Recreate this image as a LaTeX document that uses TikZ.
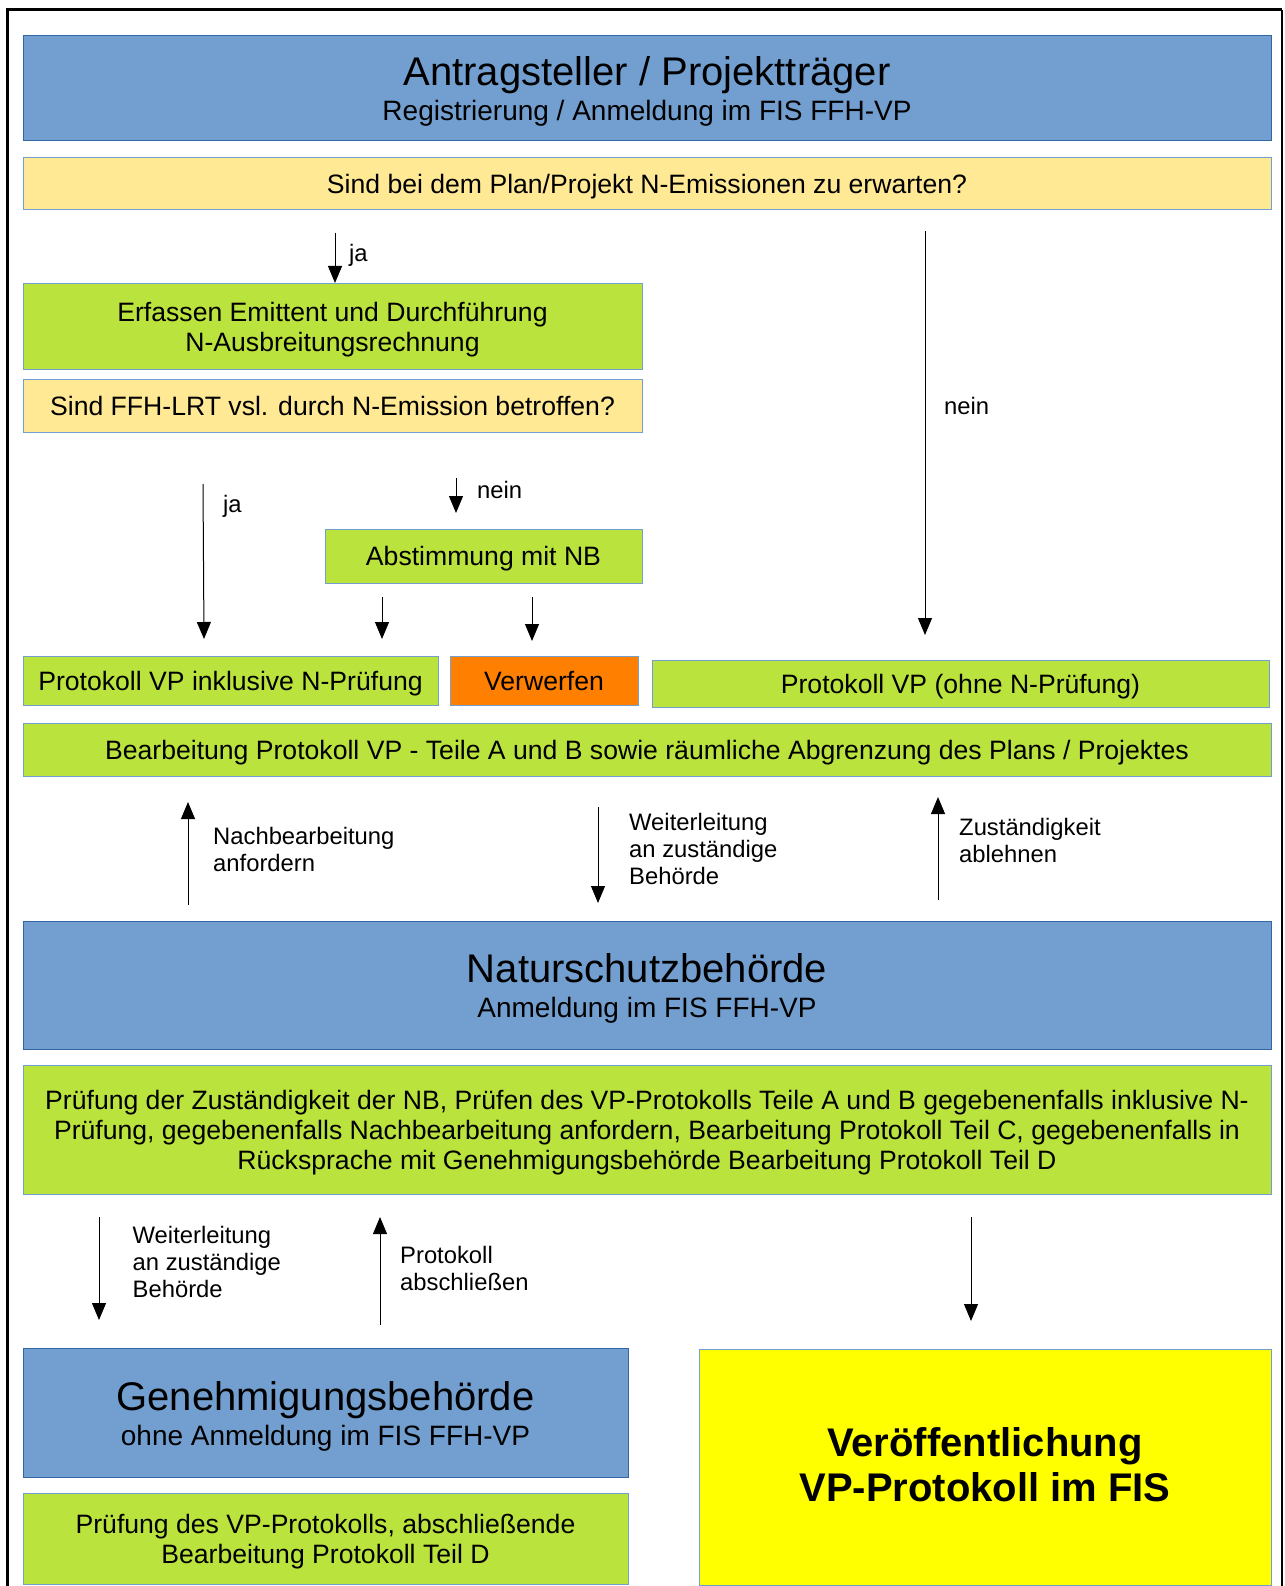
\documentclass[tikz,border=0pt]{standalone}
\usepackage{fontspec}
\setmainfont{Liberation Sans}
\usetikzlibrary{arrows.meta}
\definecolor{blauFuell}{HTML}{729FCF}
\definecolor{randDunkel}{HTML}{3465A4}
\definecolor{randHell}{HTML}{729FCF}
\definecolor{gelbHell}{HTML}{FFE994}
\definecolor{gruenFuell}{HTML}{BBE33D}
\definecolor{orangeFuell}{HTML}{FF8000}
\definecolor{gelbFuell}{HTML}{FFFF00}
\tikzset{
  kasten/.style = {draw = randHell, line width = 1pt, inner sep = 0pt, align = center, font = \fontsize{26.6}{30}\selectfont,
                   execute at begin node = {\rule[-6pt]{0pt}{31pt}}},
  kastenBlau/.style = {kasten, fill = blauFuell, draw = randDunkel, font = \fontsize{28}{35}\selectfont},
  kastenGruen/.style = {kasten, fill = gruenFuell},
  kastenFrage/.style = {kasten, fill = gelbHell},
  pfeil/.style = {line width = 1pt, -{Triangle[length = 17pt, width = 14pt]}},
  beschriftung/.style = {anchor = west, align = left, inner sep = 0pt, font = \fontsize{23.8}{27}\selectfont}
}
\newcommand{\titel}[1]{{\fontsize{40}{44}\selectfont\rule{0pt}{36pt}#1}}
\newcommand{\erste}{\rule{0pt}{26pt}}

\begin{document}
\begin{tikzpicture}[x = 1pt, y = -1pt]
    % Parametri
    \pgfmathsetmacro{\breite}{1248}
    \pgfmathsetmacro{\mitte}{647}
    \useasboundingbox (0,0) rectangle (1284,1586);
    % Rahmen
    \draw[line width = 3pt] (7,1586) -- (7,10) -- (1282,10);
    \draw[line width = 1.5pt] (1282,10) -- (1282,1586);
    % Antragsteller
    \node[kastenBlau, minimum width = \breite pt, minimum height = 105pt] (antrag) at (\mitte,88.5)
        {\titel{Antragsteller / Projektträger}\\Registrierung / Anmeldung im FIS FFH-VP};
    \node[kastenFrage, minimum width = \breite pt, minimum height = 52pt] (frageN) at (\mitte,184)
        {Sind bei dem Plan/Projekt N-Emissionen zu erwarten?};
    \node[kastenGruen, minimum width = 619pt, minimum height = 85pt] (erfassen) at (332.5,326.5)
        {\erste Erfassen Emittent und Durchführung\\N-Ausbreitungsrechnung};
    \node[kastenFrage, minimum width = 619pt, minimum height = 53pt] (frageLRT) at (332.5,405.5)
        {Sind FFH-LRT vsl. durch N-Emission betroffen?};
    \node[kastenGruen, minimum width = 317pt, minimum height = 54pt] (abstimmung) at (483.5,556)
        {Abstimmung mit NB};
    \node[kastenGruen, minimum width = 415pt, minimum height = 49pt] (protMitN) at (230.5,680.5)
        {Protokoll VP inklusive N-Prüfung};
    \node[kasten, fill = orangeFuell, minimum width = 188pt, minimum height = 49pt] (verwerfen) at (544,680.5)
        {Verwerfen};
    \node[kastenGruen, minimum width = 617pt, minimum height = 47pt] (protOhneN) at (960.5,683.5)
        {Protokoll VP (ohne N-Prüfung)};
    \node[kastenGruen, minimum width = \breite pt, minimum height = 53pt] (bearbeitung) at (\mitte,749.5)
        {Bearbeitung Protokoll VP - Teile A und B sowie räumliche Abgrenzung des Plans / Projektes};
    % Naturschutzbehoerde
    \node[kastenBlau, minimum width = \breite pt, minimum height = 128pt] (natur) at (\mitte,985)
        {\titel{Naturschutzbehörde}\\Anmeldung im FIS FFH-VP};
    \node[kastenGruen, minimum width = \breite pt, minimum height = 129pt] (pruefNB) at (\mitte,1129.5)
        {\erste Prüfung der Zuständigkeit der NB, Prüfen des VP-Protokolls Teile A und B gegebenenfalls inklusive N-\\
         Prüfung, gegebenenfalls Nachbearbeitung anfordern, Bearbeitung Protokoll Teil C, gegebenenfalls in\\
         Rücksprache mit Genehmigungsbehörde Bearbeitung Protokoll Teil D};
    % Genehmigungsbehoerde
    \node[kastenBlau, minimum width = 605pt, minimum height = 129pt] (genehm) at (325.5,1412.5)
        {\titel{Genehmigungsbehörde}\\ohne Anmeldung im FIS FFH-VP};
    \node[kastenGruen, minimum width = 605pt, minimum height = 91pt] (pruefGB) at (325.5,1538.5)
        {\erste Prüfung des VP-Protokolls, abschließende\\Bearbeitung Protokoll Teil D};
    \node[kasten, fill = gelbFuell, minimum width = 572pt, minimum height = 236pt,
          font = \fontsize{40}{45}\selectfont\bfseries] (veroeff) at (985,1467)
        {Veröffentlichung\\VP-Protokoll im FIS};
    % Pfeile
    \coordinate (a1) at (335,233);   \coordinate (b1) at (335,283);
    \coordinate (a2) at (925,231);   \coordinate (b2) at (925,635);
    \coordinate (a3) at (203,484);   \coordinate (b3) at (204,639);
    \coordinate (a4) at (456,478);   \coordinate (b4) at (456,513);
    \coordinate (a5) at (382,597);   \coordinate (b5) at (382,639);
    \coordinate (a6) at (532,597);   \coordinate (b6) at (532,641);
    \coordinate (a7) at (188,905);   \coordinate (b7) at (188,802);
    \coordinate (a8) at (598,807);   \coordinate (b8) at (598,903);
    \coordinate (a9) at (938,900);   \coordinate (b9) at (938,797);
    \coordinate (a10) at (99,1217);  \coordinate (b10) at (99,1320);
    \coordinate (a11) at (380,1325); \coordinate (b11) at (380,1217);
    \coordinate (a12) at (971,1217); \coordinate (b12) at (971,1321);
    \foreach \i in {1,...,12}
        \draw[pfeil] (a\i) -- (b\i);
    % Beschriftungen
    \node[beschriftung] (jaEins) at (349,255) {ja};
    \node[beschriftung] (neinEins) at (944,406) {nein};
    \node[beschriftung] (jaZwei) at (223,506) {ja};
    \node[beschriftung] (neinZwei) at (477,490) {nein};
    \node[beschriftung] (nachbearb) at (213,849.5) {Nachbearbeitung\\anfordern};
    \node[beschriftung] (weiterEins) at (629,849) {Weiterleitung\\an zuständige\\Behörde};
    \node[beschriftung] (ablehnen) at (959,840) {Zuständigkeit\\ablehnen};
    \node[beschriftung] (weiterZwei) at (132.5,1261.5) {Weiterleitung\\an zuständige\\Behörde};
    \node[beschriftung] (abschluss) at (400,1268.5) {Protokoll\\abschließen};
\end{tikzpicture}
\end{document}
